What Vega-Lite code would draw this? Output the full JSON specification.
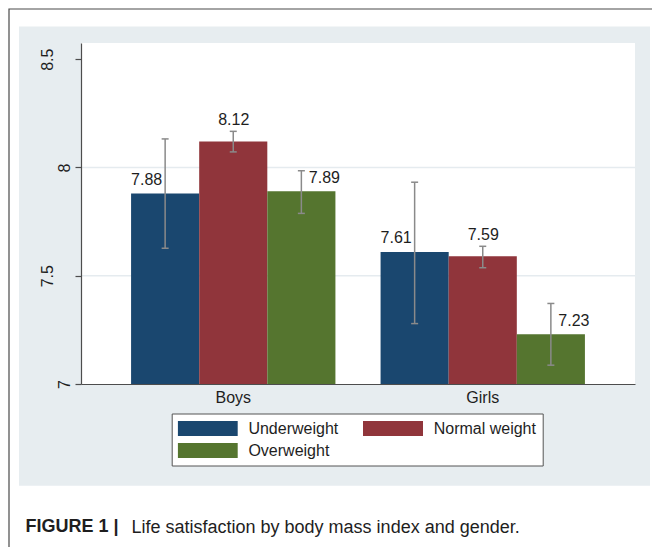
{
  "$schema": "https://vega.github.io/schema/vega-lite/v6.json",
  "autosize": {"type": "none"},
  "width": 554,
  "height": 341,
  "padding": {"left": 81, "top": 43, "right": 17, "bottom": 163},
  "background": "white",
  "config": {
    "view": {"stroke": null},
    "font": "Liberation Sans",
    "text": {"font": "Liberation Sans"}
  },
  "datasets": {
    "bars": [
      {"group": "Boys", "bmi": "Underweight", "value": 7.88, "lo": 7.627, "hi": 8.132},
      {"group": "Boys", "bmi": "Normal weight", "value": 8.12, "lo": 8.072, "hi": 8.167},
      {"group": "Boys", "bmi": "Overweight", "value": 7.89, "lo": 7.788, "hi": 7.985},
      {"group": "Girls", "bmi": "Underweight", "value": 7.61, "lo": 7.279, "hi": 7.932},
      {"group": "Girls", "bmi": "Normal weight", "value": 7.59, "lo": 7.537, "hi": 7.636},
      {"group": "Girls", "bmi": "Overweight", "value": 7.23, "lo": 7.087, "hi": 7.372}
    ],
    "grid": [{"g": 7.5}, {"g": 8}],
    "one": [{"k": 1}]
  },
  "layer": [
    {
      "data": {"name": "one"},
      "mark": {"type": "rect", "fill": null, "stroke": "#4a4a4a", "strokeWidth": 1.2},
      "encoding": {
        "x": {"value": -72},
        "x2": {"value": 640},
        "y": {"value": -34},
        "y2": {"value": 560}
      }
    },
    {
      "data": {"name": "one"},
      "mark": {"type": "rect", "fill": "#e7edf0"},
      "encoding": {
        "x": {"value": -62},
        "x2": {"value": 569},
        "y": {"value": -16.6},
        "y2": {"value": 442.7}
      }
    },
    {
      "data": {"name": "one"},
      "mark": {"type": "rect", "fill": "white"},
      "encoding": {
        "x": {"value": 0},
        "x2": {"value": "width"},
        "y": {"value": 0},
        "y2": {"value": "height"}
      }
    },
    {
      "data": {"name": "grid"},
      "mark": {"type": "rule", "stroke": "#e5ebef", "strokeWidth": 1.6},
      "encoding": {
        "y": {"field": "g", "type": "quantitative"}
      }
    },
    {
      "data": {"name": "bars"},
      "mark": {"type": "bar"},
      "encoding": {
        "x": {
          "field": "group", "type": "nominal",
          "scale": {"domain": ["Boys", "Girls"], "paddingInner": 0.181, "paddingOuter": 0.2007},
          "axis": {
            "zindex": 1, "ticks": false, "labelAngle": 0, "labelPadding": 5,
            "labelFontSize": 16, "labelColor": "#1e1e1e", "labelFont": "Liberation Sans",
            "domainColor": "#4d4d4d", "domainWidth": 1.2, "grid": false,
            "title": "Life satisfaction by body mass index and gender.",
            "titleX": 50, "titleY": 148, "titleAlign": "left", "titleBaseline": "alphabetic",
            "titleFont": "Liberation Sans", "titleFontSize": 18, "titleFontWeight": "normal", "titleColor": "#1e1e1e"
          }
        },
        "xOffset": {
          "field": "bmi", "type": "nominal",
          "scale": {"domain": ["Underweight", "Normal weight", "Overweight"], "paddingInner": 0, "paddingOuter": 0}
        },
        "y": {
          "field": "value", "type": "quantitative",
          "scale": {"domain": [7, 8.575], "nice": false, "zero": false},
          "axis": {
            "zindex": 1, "values": [7, 7.5, 8, 8.5], "grid": false,
            "labelExpr": "'' + datum.value",
            "tickSize": 6, "tickColor": "#4d4d4d", "tickWidth": 1.2,
            "domainColor": "#4d4d4d", "domainWidth": 1.2,
            "labelAngle": -90, "labelAlign": "center", "labelBaseline": "alphabetic",
            "labelPadding": {"condition": {"test": "datum.value == 7 || datum.value == 8", "value": 6}, "value": 22.3},
            "labelFontSize": 16, "labelColor": "#1e1e1e", "labelFont": "Liberation Sans",
            "labelFlush": false, "labelOverlap": false,
            "title": "FIGURE 1 |", "titleAngle": 0, "titleX": -56, "titleY": 488.7,
            "titleAlign": "left", "titleBaseline": "alphabetic",
            "titleFont": "Liberation Sans", "titleFontSize": 18, "titleFontWeight": "bold", "titleColor": "#1e1e1e"
          }
        },
        "y2": {"datum": 7},
        "color": {
          "field": "bmi", "type": "nominal",
          "scale": {"domain": ["Underweight", "Normal weight", "Overweight"], "range": ["#1a476f", "#90353b", "#55752f"]},
          "legend": {
            "orient": "none", "legendX": 90.7, "legendY": 370.5, "title": null,
            "columns": 2, "direction": "horizontal",
            "symbolType": "M-1,-0.25H1V0.25H-1Z", "symbolSize": 3600, "symbolStrokeWidth": 0,
            "symbolOpacity": 1, "clipHeight": 18,
            "labelFontSize": 16, "labelFont": "Liberation Sans", "labelColor": "#1e1e1e", "labelOffset": 10.7,
            "columnPadding": 24.3, "rowPadding": 4, "padding": 6,
            "strokeColor": "#555555", "fillColor": "white"
          }
        }
      }
    },
    {
      "data": {"name": "bars"},
      "mark": {"type": "rule", "stroke": "#8a8a8a", "strokeWidth": 1.5},
      "encoding": {
        "x": {"field": "group", "type": "nominal"},
        "xOffset": {"field": "bmi", "type": "nominal"},
        "y": {"field": "lo", "type": "quantitative"},
        "y2": {"field": "hi"}
      }
    },
    {
      "data": {"name": "bars"},
      "transform": [{"fold": ["lo", "hi"], "as": ["k", "v"]}],
      "mark": {"type": "tick", "color": "#8a8a8a", "size": 7, "thickness": 1.5, "orient": "horizontal", "opacity": 1},
      "encoding": {
        "x": {"field": "group", "type": "nominal"},
        "xOffset": {"field": "bmi", "type": "nominal"},
        "y": {"field": "v", "type": "quantitative"}
      }
    },
    {
      "data": {"name": "bars"},
      "transform": [{"filter": "datum.bmi == 'Underweight'"}],
      "mark": {"type": "text", "fontSize": 16, "color": "#1e1e1e", "baseline": "alphabetic", "align": "center", "dx": -18.5, "dy": -8.5},
      "encoding": {
        "x": {"field": "group", "type": "nominal"},
        "xOffset": {"field": "bmi", "type": "nominal"},
        "y": {"field": "value", "type": "quantitative"},
        "text": {"field": "value", "type": "quantitative", "format": ".2f"}
      }
    },
    {
      "data": {"name": "bars"},
      "transform": [{"filter": "datum.bmi == 'Normal weight'"}],
      "mark": {"type": "text", "fontSize": 16, "color": "#1e1e1e", "baseline": "alphabetic", "align": "center", "dx": 0.5, "dy": -16.5},
      "encoding": {
        "x": {"field": "group", "type": "nominal"},
        "xOffset": {"field": "bmi", "type": "nominal"},
        "y": {"field": "value", "type": "quantitative"},
        "text": {"field": "value", "type": "quantitative", "format": ".2f"}
      }
    },
    {
      "data": {"name": "bars"},
      "transform": [{"filter": "datum.bmi == 'Overweight'"}],
      "mark": {"type": "text", "fontSize": 16, "color": "#1e1e1e", "baseline": "alphabetic", "align": "center", "dx": 23, "dy": -8.5},
      "encoding": {
        "x": {"field": "group", "type": "nominal"},
        "xOffset": {"field": "bmi", "type": "nominal"},
        "y": {"field": "value", "type": "quantitative"},
        "text": {"field": "value", "type": "quantitative", "format": ".2f"}
      }
    }
  ]
}
